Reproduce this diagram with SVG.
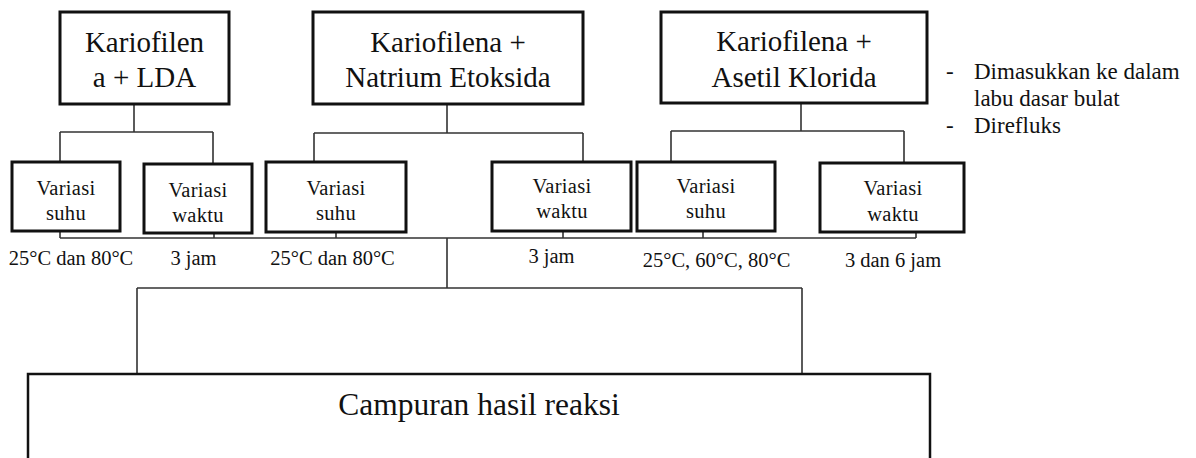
<svg xmlns="http://www.w3.org/2000/svg" width="1196" height="458" viewBox="0 0 1196 458" font-family="'Liberation Serif', 'DejaVu Serif', serif">
  <style>
    .box { fill: #ffffff; stroke: #111111; stroke-width: 3; }
    .sub { fill: #ffffff; stroke: #111111; stroke-width: 3; }
    .final { fill: #ffffff; stroke: #111111; stroke-width: 2.5; }
    .conn { fill: none; stroke: #333333; stroke-width: 1.6; }
    .t { font-family: 'Liberation Serif', 'DejaVu Serif', serif; fill: #111111; }
    .title { font-size: 29px; text-anchor: middle; }
    .var { font-size: 20.5px; text-anchor: middle; letter-spacing: 0.3px; }
    .lbl { font-size: 20.5px; text-anchor: middle; }
    .note { font-size: 23px; }
    .res { font-size: 31.5px; text-anchor: middle; }
  </style>

  <!-- connectors -->
  <g id="connectors">
    <!-- Kariofilena + LDA branches -->
    <path class="conn" d="M134 104 V132 M60 132 H213 M60 132 V162 M213 132 V164"/>
    <!-- Kariofilena + Natrium Etoksida branches -->
    <path class="conn" d="M447 104 V133 M314 133 H583 M314 133 V162 M583 133 V162"/>
    <!-- Kariofilena + Asetil Klorida branches -->
    <path class="conn" d="M801 103 V131 M671 131 H904 M671 131 V162 M904 131 V163"/>
    <!-- collecting bar under the variation boxes -->
    <path class="conn" d="M60 231 V238 M214 233 V238 M336 232 V238 M563 231 V238 M703 231 V238 M916 232 V238 M60 238 H916"/>
    <!-- down to the product box -->
    <path class="conn" d="M447 238 V288 M137 288 H802 M137 288 V374 M802 288 V374"/>
  </g>

  <!-- top row: reactant mixtures -->
  <g id="node-lda">
    <rect class="box" x="60" y="12" width="169" height="92"/>
    <text class="t title" x="144.5" y="52">Kariofilen</text>
    <text class="t title" x="144.5" y="87">a + LDA</text>
  </g>
  <g id="node-naoet">
    <rect class="box" x="313" y="12" width="270" height="92"/>
    <text class="t title" x="448" y="52">Kariofilena +</text>
    <text class="t title" x="448" y="87">Natrium Etoksida</text>
  </g>
  <g id="node-accl">
    <rect class="box" x="661" y="12" width="266" height="91"/>
    <text class="t title" x="794" y="51">Kariofilena +</text>
    <text class="t title" x="794" y="87">Asetil Klorida</text>
  </g>

  <!-- procedure notes -->
  <g id="notes">
    <text class="t note" x="946" y="79">-</text>
    <text class="t note" x="974" y="79">Dimasukkan ke dalam</text>
    <text class="t note" x="974" y="106">labu dasar bulat</text>
    <text class="t note" x="946" y="133">-</text>
    <text class="t note" x="974" y="133">Direfluks</text>
  </g>

  <!-- second row: variations -->
  <g id="node-lda-suhu">
    <rect class="sub" x="12" y="162" width="108" height="69"/>
    <text class="t var" x="66" y="195">Variasi</text>
    <text class="t var" x="66" y="220">suhu</text>
  </g>
  <g id="node-lda-waktu">
    <rect class="sub" x="144" y="164" width="108" height="69"/>
    <text class="t var" x="198" y="197">Variasi</text>
    <text class="t var" x="198" y="222">waktu</text>
  </g>
  <g id="node-naoet-suhu">
    <rect class="sub" x="266" y="162" width="140" height="70"/>
    <text class="t var" x="336" y="195">Variasi</text>
    <text class="t var" x="336" y="220">suhu</text>
  </g>
  <g id="node-naoet-waktu">
    <rect class="sub" x="492" y="162" width="139" height="69"/>
    <text class="t var" x="562" y="193">Variasi</text>
    <text class="t var" x="562" y="218">waktu</text>
  </g>
  <g id="node-accl-suhu">
    <rect class="sub" x="637" y="162" width="138" height="69"/>
    <text class="t var" x="706" y="193">Variasi</text>
    <text class="t var" x="706" y="218">suhu</text>
  </g>
  <g id="node-accl-waktu">
    <rect class="sub" x="820" y="163" width="144" height="69"/>
    <text class="t var" x="893" y="195">Variasi</text>
    <text class="t var" x="893" y="221">waktu</text>
  </g>

  <!-- variation values -->
  <g id="values">
    <text class="t lbl" x="71" y="265">25°C dan 80°C</text>
    <text class="t lbl" x="193.5" y="265">3 jam</text>
    <text class="t lbl" x="332.5" y="265">25°C dan 80°C</text>
    <text class="t lbl" x="551.5" y="263">3 jam</text>
    <text class="t lbl" x="716.5" y="267">25°C, 60°C, 80°C</text>
    <text class="t lbl" x="893" y="267">3 dan 6 jam</text>
  </g>

  <!-- product -->
  <g id="node-product">
    <rect class="final" x="28" y="374" width="902" height="100"/>
    <text class="t res" x="479" y="415">Campuran hasil reaksi</text>
  </g>
</svg>
